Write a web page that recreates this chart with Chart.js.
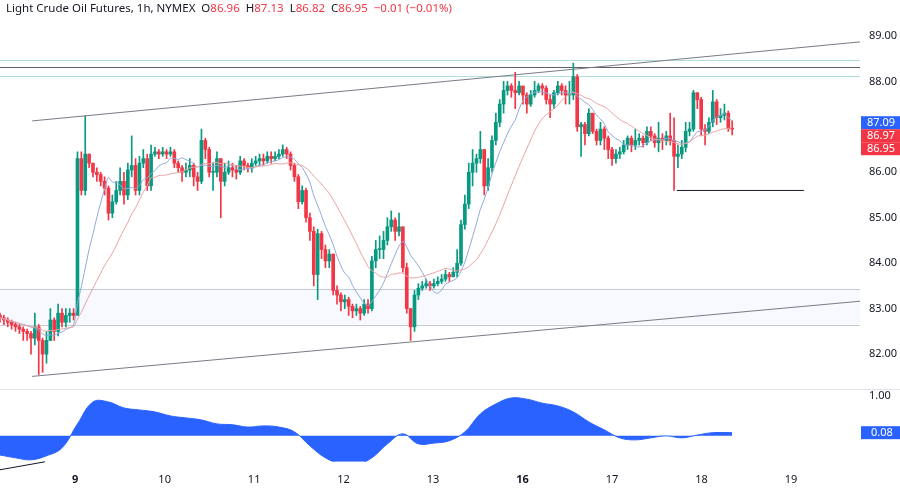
<!DOCTYPE html>
<html><head><meta charset="utf-8">
<script src="https://cdn.jsdelivr.net/npm/chart.js@4.4.1/dist/chart.umd.min.js"></script>
<style>
html,body{margin:0;padding:0;background:#fff;width:900px;height:489px;overflow:hidden;font-family:"Noto Sans",Roboto,sans-serif}
#c1{position:absolute;left:0;top:0}
#c2{position:absolute;left:0;top:390px}
#sep{position:absolute;left:0;top:389px;width:900px;height:1px;background:#e0e3eb}
#title{position:absolute;left:6px;top:0px;font-size:11.5px;color:#131722;white-space:nowrap}
#title span{color:#f23645}
</style></head><body>
<canvas id="c1" width="900" height="390"></canvas>
<div id="sep"></div>
<canvas id="c2" width="900" height="99"></canvas>
<div id="title">Light Crude Oil Futures, 1h, NYMEX&nbsp; O<span>86.96</span>&nbsp; H<span>87.13</span>&nbsp; L<span>86.82</span>&nbsp; C<span>86.95</span>&nbsp; <span>−0.01 (−0.01%)</span></div>
<script>
const closes=[82.8,82.75,82.7,82.65,82.6,82.55,82.5,82.45,82.35,82.6,82.3,82.0,82.3,82.75,82.5,82.9,82.7,82.85,82.9,82.85,
86.3,85.6,86.4,86.2,86.0,85.95,85.8,85.65,85.1,85.35,85.6,85.8,85.5,86.05,86.15,85.6,86.2,86.3,85.7,86.4,
86.45,86.4,86.45,86.4,86.45,86.2,86.1,86.0,86.05,86.15,85.9,85.8,86.7,86.5,86.0,86.0,86.3,85.8,86.0,86.1,
86.05,86.0,86.25,86.15,86.1,86.2,86.25,86.3,86.25,86.35,86.3,86.35,86.4,86.5,86.4,86.15,85.9,85.35,85.6,85.0,
84.7,83.75,84.65,84.3,84.05,84.2,83.4,83.3,83.15,83.2,83.05,82.95,83.0,82.9,83.1,83.0,84.05,84.3,84.3,84.5,
84.8,84.95,84.7,84.8,83.9,83.0,82.6,83.3,83.45,83.5,83.55,83.5,83.55,83.6,83.65,83.75,83.7,83.8,84.0,84.85,
85.3,86.0,86.2,86.3,86.5,85.7,86.1,86.7,87.1,87.5,87.8,87.9,87.8,87.75,87.9,87.7,87.5,87.7,87.8,87.9,
87.85,87.6,87.5,87.75,87.9,87.8,87.7,87.7,88.1,87.0,87.05,86.85,87.3,86.9,86.7,86.95,86.75,86.5,86.3,86.4,
86.45,86.6,86.75,86.6,86.7,86.75,86.65,86.9,86.8,86.65,86.75,86.7,86.8,86.7,86.35,86.4,86.55,86.9,86.95,87.75,
87.6,86.95,86.9,87.1,87.55,87.2,87.25,87.3,86.96,86.95];
const highs=[82.9,82.85,82.8,82.75,82.7,82.65,82.6,82.55,82.5,82.9,82.65,82.35,82.5,83.0,82.8,83.1,83.0,83.0,83.0,83.0,
86.45,86.45,87.24,86.4,86.2,86.1,86.0,85.9,85.7,85.5,85.8,86.1,86.0,86.2,86.8,86.3,86.35,86.5,86.4,86.6,
86.55,86.5,86.55,86.5,86.55,86.5,86.25,86.15,86.2,86.3,86.2,86.0,86.95,86.75,86.55,86.2,86.45,86.3,86.2,86.25,
86.2,86.15,86.35,86.3,86.2,86.3,86.35,86.4,86.4,86.45,86.45,86.45,86.5,86.6,86.55,86.45,86.2,85.95,85.7,85.65,
85.1,84.8,84.75,84.7,84.4,84.3,84.2,83.5,83.35,83.3,83.25,83.1,83.1,83.05,83.2,83.2,84.15,84.5,84.6,84.7,
85.0,85.15,85.0,85.1,84.8,84.0,83.0,83.4,83.55,83.6,83.65,83.6,83.65,83.7,83.75,83.85,83.8,83.9,84.3,84.95,
85.5,86.2,86.5,86.4,86.9,86.5,86.3,86.8,87.3,87.6,88.0,88.0,87.95,88.2,88.0,87.85,87.75,87.8,88.0,87.95,
87.95,87.9,87.7,87.8,88.0,87.95,87.9,88.0,88.4,88.15,87.1,87.1,87.4,87.3,86.95,87.1,87.0,86.8,86.55,86.5,
86.55,86.7,86.8,86.8,86.95,86.85,86.8,87.0,87.0,86.85,87.1,86.85,86.9,87.3,87.2,86.6,86.7,87.1,87.1,87.8,
87.75,87.65,87.05,87.2,87.8,87.6,87.4,87.5,87.35,87.13];
const lows=[82.7,82.65,82.6,82.55,82.5,82.45,82.3,82.3,82.0,82.2,81.55,81.6,81.8,82.3,82.3,82.4,82.6,82.6,82.7,82.75,
85.3,85.5,85.5,86.1,85.9,85.8,85.7,85.5,84.95,85.0,85.3,85.5,85.3,85.4,85.9,85.5,85.5,86.1,85.6,85.6,
86.35,86.3,86.35,86.3,86.35,86.1,86.0,85.8,85.9,85.9,85.7,85.6,85.75,86.3,85.9,85.6,85.9,85.0,85.7,85.95,
85.9,85.85,85.95,86.05,86.0,86.0,86.15,86.15,86.15,86.2,86.2,86.25,86.3,86.35,86.3,86.05,85.8,85.2,85.3,84.9,
84.5,83.5,83.2,84.1,83.9,83.9,83.3,83.1,82.95,83.0,82.85,82.8,82.85,82.75,82.85,82.9,82.95,83.9,84.1,84.1,
84.4,84.7,84.5,84.6,83.8,82.9,82.3,82.5,83.2,83.4,83.45,83.4,83.45,83.5,83.55,83.6,83.6,83.7,83.7,83.95,
84.75,85.2,85.7,86.0,86.2,85.5,85.6,86.0,86.6,87.0,87.3,87.7,87.65,87.4,87.7,87.5,87.3,87.45,87.65,87.75,
87.7,87.5,87.2,87.4,87.7,87.7,87.5,87.5,87.6,86.9,86.35,86.6,86.8,86.85,86.6,86.6,86.5,86.3,86.15,86.2,
86.3,86.4,86.5,86.45,86.5,86.6,86.55,86.6,86.7,86.55,86.45,86.5,86.6,86.6,85.6,86.1,86.3,86.45,86.8,86.9,
87.4,86.8,86.6,86.85,87.0,87.05,87.1,87.15,86.9,86.82];
const firstOpen=82.85;
const oscIdx=[0,4,8,12,16,20,24,28,32,36,40,44,48,52,56,60,64,68,72,76,80,84,88,92,96,100,104,108,112,116,120,124,128,132,136,140,144,148,152,156,160,164,168,172,176,180,184,189];
const oscVals=[-0.48,-0.55,-0.6,-0.5,-0.3,0.3,0.85,0.85,0.7,0.65,0.6,0.5,0.45,0.4,0.3,0.28,0.22,0.25,0.22,0.1,-0.25,-0.55,-0.7,-0.72,-0.55,-0.2,0.05,-0.2,-0.18,-0.12,0.1,0.55,0.8,0.95,0.92,0.82,0.75,0.6,0.35,0.15,-0.05,-0.1,-0.05,0,-0.05,0.02,0.08,0.08];
const dayIdx=[19.4,42.5,65.6,88.7,111.8,134.9,158.0,181.1,204.2];
const dayLabels=['9','10','11','12','13','16','17','18','19'];
const boldDays=['9','16'];
const priceTicks=[82,83,84,85,86,88,89];
const oscTicks=[1];
const upperTrend=[{x:8.3,y:87.13},{x:232,y:88.95}];
const lowerTrend=[{x:8.3,y:81.51},{x:232,y:83.24}];
const hLines=[{v:88.47,c:'#b2dfdb'},{v:88.32,c:'#5d606b'},{v:88.12,c:'#b2dfdb'}];
const band=[82.65,83.44];
const supportLine=[{x:174.7,y:85.60},{x:207.5,y:85.60}];
const oscTrend=[{x:0,y:-0.85},{x:11.6,y:-0.65}];
const tags=[{v:87.09,t:'87.09',c:'#2962ff'},{v:86.97,t:'86.97',c:'#f23645'},{v:86.95,t:'86.95',c:'#f23645'}];
const oscTag={v:0.08,t:'0.08',c:'#2962ff'};

const UP='#089981',DN='#f23645';
const opens=closes.map((c,i)=>i===0?firstOpen:closes[i-1]);
function sma(n){return closes.map((c,i)=>{const s=Math.max(0,i-n+1);let t=0;for(let k=s;k<=i;k++)t+=closes[k];return {x:i,y:t/(i-s+1)};});}
const col=closes.map((c,i)=>c>=opens[i]?UP:DN);
const XMIN=0,XMAX=222;
const FONT='11px "Noto Sans",Roboto,sans-serif';

function axisPlugin(ticks,tagList){return {id:'ax',
 afterDraw(ch){const {ctx,scales:{y}}=ch;ctx.save();ctx.font=FONT;ctx.textBaseline='middle';
  ctx.fillStyle='#131722';
  ticks.forEach(v=>ctx.fillText(v.toFixed(2),869,y.getPixelForValue(v)));
  let prev=-100;
  tagList.forEach(t=>{let p=y.getPixelForValue(t.v);if(p<prev+13)p=prev+13;prev=p;
   ctx.fillStyle=t.c;ctx.fillRect(861,p-6.5,39,13);ctx.fillStyle='#fff';ctx.fillText(t.t,t.t.length<5?871:867,p);});
  ctx.restore();}};}

const deco={id:'deco',
 beforeDatasetsDraw(ch){const {ctx,chartArea:a,scales:{y}}=ch;ctx.save();
  const y1=y.getPixelForValue(band[1]),y0=y.getPixelForValue(band[0]);
  ctx.fillStyle='rgba(41,98,255,0.04)';ctx.fillRect(a.left,y1,a.width,y0-y1);
  ctx.strokeStyle='#c5cbce';ctx.lineWidth=1;
  [y0,y1].forEach(p=>{ctx.beginPath();ctx.moveTo(a.left,Math.round(p)+.5);ctx.lineTo(a.right,Math.round(p)+.5);ctx.stroke();});
  hLines.forEach(h=>{const p=Math.round(y.getPixelForValue(h.v))+.5;ctx.strokeStyle=h.c;ctx.beginPath();ctx.moveTo(a.left,p);ctx.lineTo(a.right,p);ctx.stroke();});
  ctx.restore();}};

new Chart(document.getElementById('c1'),{type:'bar',
 data:{datasets:[
  {type:'line',data:upperTrend,borderColor:'#787b86',borderWidth:1,pointRadius:0,order:1},
  {type:'line',data:lowerTrend,borderColor:'#787b86',borderWidth:1,pointRadius:0,order:1},
  {type:'line',data:supportLine,borderColor:'#131722',borderWidth:1,pointRadius:0,order:1},
  {type:'line',data:sma(20),borderColor:'#e8a3a3',borderWidth:1,pointRadius:0,tension:0.3,order:2},
  {type:'line',data:sma(9),borderColor:'#8fa9d9',borderWidth:1,pointRadius:0,tension:0.3,order:2},
  {data:closes.map((c,i)=>({x:i,y:[lows[i],highs[i]]})),backgroundColor:col,barThickness:1,grouped:false,order:4},
  {data:closes.map((c,i)=>({x:i,y:[opens[i],c]})),backgroundColor:col,barThickness:3,minBarLength:1,grouped:false,order:3}
 ]},
 options:{responsive:false,animation:false,layout:{padding:{left:0,top:0,bottom:0,right:40}},plugins:{legend:{display:false},tooltip:{enabled:false}},
  scales:{x:{type:'linear',min:XMIN,max:XMAX,offset:false,display:false},
   y:{min:81.21,max:89.79,display:false}}},
 plugins:[deco,axisPlugin(priceTicks,tags)]});

new Chart(document.getElementById('c2'),{type:'line',
 data:{datasets:[
  {data:oscIdx.map((x,i)=>({x,y:oscVals[i]})),borderColor:'#2962ff',backgroundColor:'#2962ff',fill:'origin',borderWidth:1,pointRadius:0,tension:0.4},
  {data:oscTrend,borderColor:'#131722',borderWidth:1,pointRadius:0,clip:false}
 ]},
 options:{responsive:false,animation:false,layout:{padding:{left:0,top:0,bottom:0,right:40}},plugins:{legend:{display:false},tooltip:{enabled:false}},
  scales:{x:{type:'linear',min:XMIN,max:XMAX,offset:false,grid:{display:false},border:{display:false},
    afterBuildTicks:s=>{s.ticks=dayIdx.map(v=>({value:v}));},
    ticks:{color:'#131722',maxRotation:0,padding:3,autoSkip:false,
     font:c=>{const l=dayLabels[dayIdx.indexOf(c.tick&&c.tick.value)];return {family:'"Noto Sans",Roboto,sans-serif',size:11,weight:boldDays.includes(l)?'bold':'normal'};},
     callback:v=>dayLabels[dayIdx.indexOf(v)]}},
   y:{min:-0.65,max:1.15,display:false}}},
 plugins:[axisPlugin(oscTicks,[oscTag])]});
</script></body></html>
